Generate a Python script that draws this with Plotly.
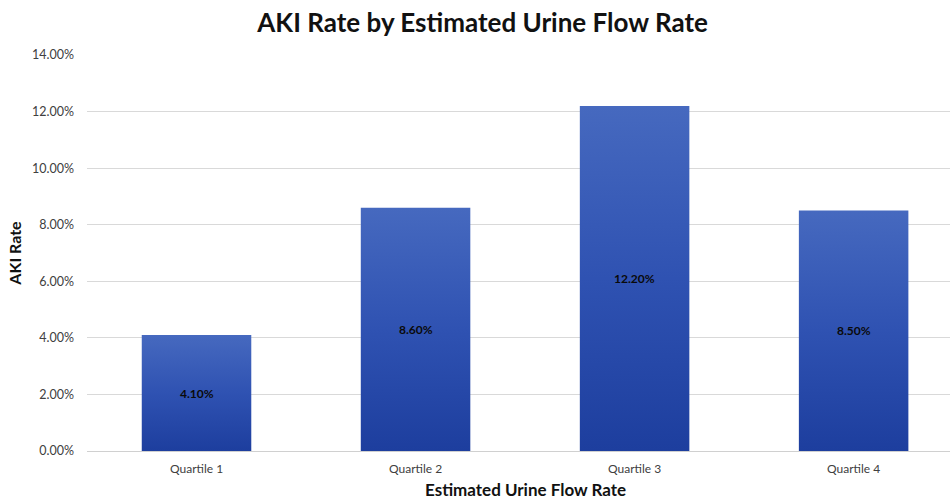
import plotly.graph_objects as go

# Chart data
categories = ["Quartile 1", "Quartile 2", "Quartile 3", "Quartile 4"]
aki_rate = [4.10, 8.60, 12.20, 8.50]  # percent
y_ticks = [0, 2, 4, 6, 8, 10, 12, 14]
y_tick_labels = [f"{t:.2f}%" for t in y_ticks]

BAR_HALF = 0.25
FONT = "Lato, 'Open Sans', sans-serif"

fig = go.Figure()

# Each bar is a filled rectangle so it can carry its own vertical gradient
for i, (cat, v) in enumerate(zip(categories, aki_rate)):
    xs = [i - BAR_HALF, i + BAR_HALF, i + BAR_HALF, i - BAR_HALF, i - BAR_HALF]
    ys = [0, 0, v, v, 0]
    fig.add_trace(go.Scatter(
        x=xs, y=ys, mode="lines", fill="toself",
        line=dict(width=0, color="rgba(0,0,0,0)"),
        fillgradient=dict(
            type="vertical",
            colorscale=[[0, "#1d3e9e"], [0.5, "#2f52b2"], [1, "#4669bf"]],
        ),
        name=cat, showlegend=False, hoverinfo="skip",
    ))
    fig.add_annotation(
        x=i, y=v / 2, text=f"<b>{v:.2f}%</b>", showarrow=False,
        font=dict(family=FONT, size=12, color="#0a0a0a"),
    )

fig.update_layout(
    width=950, height=500,
    margin=dict(l=87, r=0, t=55, b=49),
    paper_bgcolor="white", plot_bgcolor="white",
    title=dict(
        text="<b>AKI Rate by Estimated Urine Flow Rate</b>",
        x=0.508, xanchor="center", y=0.955, yanchor="middle",
        font=dict(family=FONT, size=26, color="#111111"),
    ),
    xaxis=dict(
        range=[-0.5, 3.44], tickvals=list(range(len(categories))),
        ticktext=categories, showgrid=False, zeroline=False,
        showline=False, ticks="", ticklabelstandoff=9,
        tickfont=dict(family=FONT, size=12, color="#404040"),
    ),
    yaxis=dict(
        range=[0, 14], tickvals=y_ticks, ticktext=y_tick_labels,
        showgrid=True, gridcolor="#d9d9d9", gridwidth=1,
        zeroline=True, zerolinecolor="#d0d0d0", zerolinewidth=1,
        showline=False, ticks="", ticklabelstandoff=12,
        tickfont=dict(family=FONT, size=12.5, color="#404040"),
        title=dict(text="<b>AKI Rate</b>", standoff=6,
                   font=dict(family=FONT, size=16, color="#111111")),
    ),
)

fig.add_annotation(
    x=0.508, y=-0.098, xref="paper", yref="paper", yanchor="middle",
    text="<b>Estimated Urine Flow Rate</b>", showarrow=False,
    font=dict(family=FONT, size=17, color="#111111"),
)

fig.write_html("out.html")
